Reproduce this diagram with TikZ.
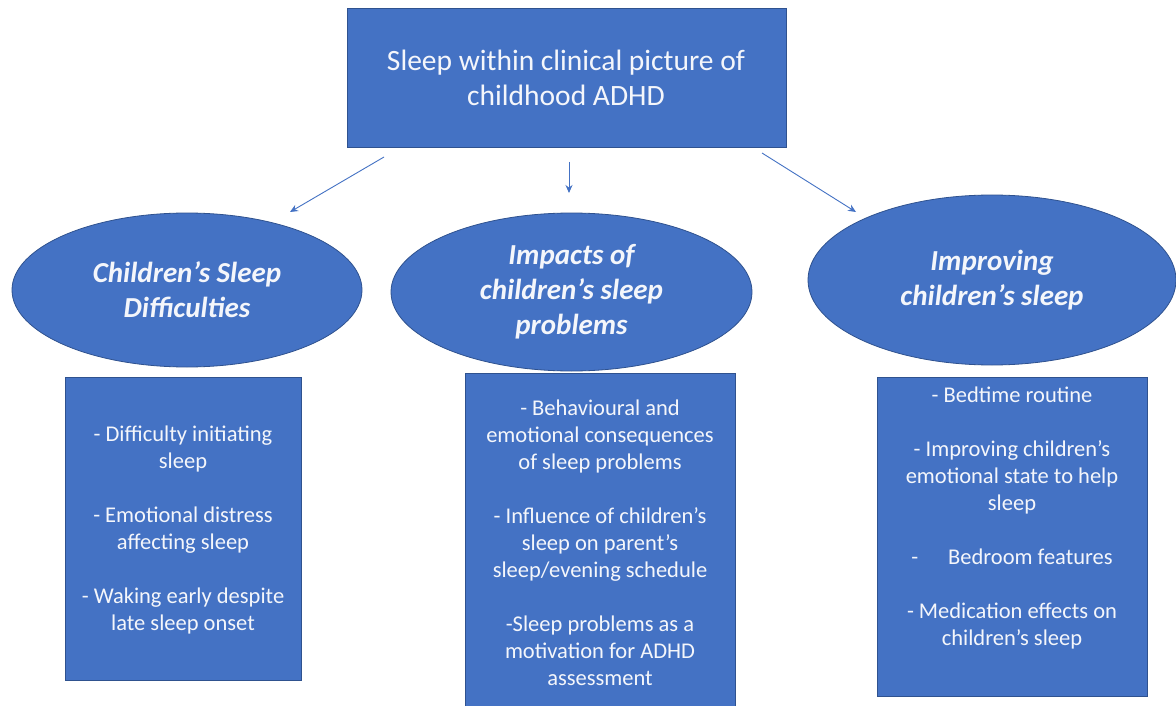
\documentclass[tikz,border=0pt]{standalone}
\usepackage{fontspec}
\setmainfont{Carlito}
\usetikzlibrary{shapes.geometric,arrows.meta}
\definecolor{ofblue}{HTML}{4472C4}
\definecolor{ofedge}{HTML}{2F528F}
\definecolor{txt}{HTML}{F4F6FB}
\begin{document}
\begin{tikzpicture}[x=1pt,y=-1pt,
  topbox/.style={draw=ofedge,line width=0.8pt,fill=ofblue,inner sep=0pt},
  oval/.style={ellipse,draw=ofedge,line width=0.8pt,fill=ofblue,inner sep=0pt,
     text=txt,align=center,font=\fontsize{29}{35}\selectfont\bfseries\itshape},
  listbox/.style={draw=ofedge,line width=0.8pt,fill=ofblue,inner sep=0pt},
  listtext/.style={text=txt,align=center,inner sep=0pt,font=\fontsize{22.5}{27}\selectfont},
  conn/.style={draw=ofblue,line width=0.9pt,-{Stealth[length=8pt,width=7pt]}}]
\useasboundingbox[fill=white] (0,0) rectangle (1176,706);
% top box
\node[topbox,minimum width=439pt,minimum height=139pt] (top) at (566.5,77.5) {};
\node[text=txt,align=center,inner sep=0pt,font=\fontsize{29.5}{35}\selectfont] (toptext) at (566,78)
  {Sleep within clinical picture of\\childhood ADHD};
% ellipses
\node[oval,minimum width=350pt,minimum height=154pt] (e1) at (187,290)
  {Children’s Sleep\\Difficulties};
\node[oval,minimum width=361pt,minimum height=158pt] (e2) at (571.5,292)
  {Impacts of\\children’s sleep\\problems};
\node[oval,minimum width=368pt,minimum height=170pt] (e3) at (992,280)
  {Improving\\children’s sleep};
% arrows
\coordinate (a1s) at (384,157); \coordinate (a1e) at (290,212);
\coordinate (a2s) at (569,162); \coordinate (a2e) at (569,193);
\coordinate (a3s) at (762,153); \coordinate (a3e) at (856,212);
\draw[conn] (a1s) -- (a1e);
\draw[conn] (a2s) -- (a2e);
\draw[conn] (a3s) -- (a3e);
% list boxes
\node[listbox,minimum width=236pt,minimum height=303pt] (b1) at (183,528.5) {};
\node[listtext] (t1) at (183,530)
  {- Difficulty initiating\\sleep\\[27pt]- Emotional distress\\affecting sleep\\[27pt]- Waking early despite\\late sleep onset};
\node[listbox,minimum width=270pt,minimum height=336pt] (b2) at (600,541) {};
\node[listtext] (t2) at (600,543)
  {- Behavioural and\\emotional consequences\\of sleep problems\\[27pt]- Influence of children’s\\sleep on parent’s\\sleep/evening schedule\\[27pt]-Sleep problems as a\\motivation for ADHD\\assessment};
\node[listbox,minimum width=270pt,minimum height=319pt] (b3) at (1012,536.5) {};
\node[listtext] (t3) at (1012,518)
  {- Bedtime routine\\[27pt]- Improving children’s\\emotional state to help\\sleep\\[27pt]-\hspace{30pt}Bedroom features\\[27pt]- Medication effects on\\children’s sleep};
\end{tikzpicture}
\end{document}
